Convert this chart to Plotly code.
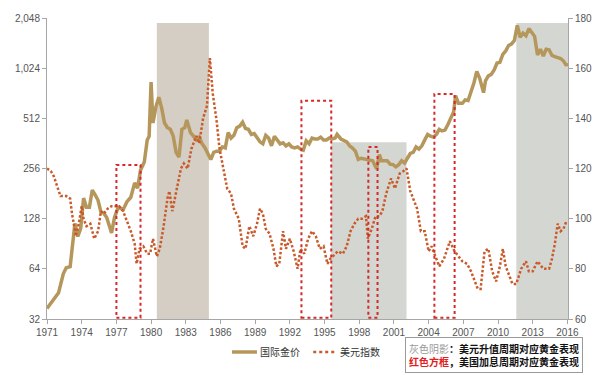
import plotly.graph_objects as go

gold_dates = ["1971-01","1971-08","1972-01","1972-06","1972-09","1973-01","1973-03","1973-06","1973-09","1973-12",
"1974-03","1974-06","1974-09","1974-12","1975-03","1975-06","1975-09","1975-12","1976-03","1976-08","1976-11",
"1977-03","1977-08","1977-12","1978-04","1978-08","1978-11","1979-02","1979-06","1979-09","1979-11","1980-01",
"1980-03","1980-06","1980-09","1980-12","1981-03","1981-06","1981-09","1981-12","1982-03","1982-06","1982-09",
"1982-12","1983-02","1983-06","1983-09","1983-12","1984-03","1984-06","1984-09","1984-12","1985-03","1985-06",
"1985-09","1985-12","1986-03","1986-06","1986-09","1986-12","1987-03","1987-06","1987-09","1987-12","1988-03",
"1988-06","1988-09","1988-12","1989-03","1989-06","1989-09","1989-12","1990-03","1990-06","1990-09","1990-12",
"1991-03","1991-06","1991-09","1991-12","1992-03","1992-06","1992-09","1992-12","1993-03","1993-06","1993-09",
"1993-12","1994-03","1994-06","1994-09","1994-12","1995-03","1995-06","1995-09","1995-12","1996-02","1996-06",
"1996-12","1997-03","1997-06","1997-09","1997-12","1998-03","1998-06","1998-09","1998-12","1999-03","1999-07",
"1999-10","1999-12","2000-03","2000-06","2000-09","2000-12","2001-03","2001-06","2001-09","2001-12","2002-03",
"2002-06","2002-09","2002-12","2003-03","2003-06","2003-09","2003-12","2004-03","2004-06","2004-09","2004-12",
"2005-03","2005-06","2005-09","2005-12","2006-03","2006-05","2006-08","2006-12","2007-03","2007-06","2007-09",
"2007-12","2008-03","2008-06","2008-10","2008-12","2009-03","2009-06","2009-09","2009-12","2010-03","2010-06",
"2010-09","2010-12","2011-03","2011-06","2011-09","2011-12","2012-03","2012-06","2012-09","2012-12","2013-03",
"2013-06","2013-09","2013-12","2014-03","2014-06","2014-09","2014-12","2015-03","2015-06","2015-09","2015-12","2016-01"]
gold_values = [37,42,46,60,65,66,84,120,100,112,
170,150,150,190,178,165,140,138,130,105,130,
150,145,162,172,210,195,250,280,380,400,845,
480,600,686,590,480,450,440,400,320,300,440,
450,500,420,400,380,395,360,340,310,290,320,
325,325,345,340,420,390,405,450,460,485,445,
440,410,415,390,370,360,405,390,350,400,380,
360,365,350,360,345,340,345,335,330,375,360,
390,385,385,395,380,380,390,385,390,410,385,
370,350,340,325,290,295,292,292,288,285,255,
310,285,285,285,272,270,262,270,285,276,295,
315,320,345,335,350,380,410,400,395,410,440,
430,435,470,510,560,700,630,630,660,655,740,
835,980,890,730,860,920,940,1000,1100,1110,1240,
1300,1400,1430,1500,1850,1570,1660,1600,1770,1670,1590,
1230,1330,1210,1330,1320,1220,1200,1180,1170,1130,1060,1100]

usd_dates = ["1971-01","1971-05","1971-08","1971-12","1972-03","1972-09","1973-01","1973-03","1973-07","1973-10",
"1974-01","1974-03","1974-06","1974-10","1975-02","1975-06","1975-09","1975-12","1976-04","1976-08","1976-12",
"1977-04","1977-08","1977-12","1978-04","1978-08","1978-10","1979-01","1979-05","1979-09","1979-12","1980-03",
"1980-07","1980-10","1981-02","1981-06","1981-08","1981-11","1982-04","1982-08","1982-11","1983-03","1983-07",
"1983-12","1984-03","1984-07","1984-11","1985-02","1985-05","1985-09","1985-12","1986-04","1986-08","1986-12",
"1987-03","1987-08","1987-12","1988-03","1988-07","1988-11","1989-03","1989-06","1989-09","1989-12","1990-04",
"1990-08","1990-11","1991-02","1991-06","1991-09","1992-01","1992-05","1992-09","1992-12","1993-04","1993-08",
"1993-12","1994-04","1994-08","1994-12","1995-04","1995-07","1995-10","1996-03","1996-08","1996-12","1997-04",
"1997-08","1997-12","1998-04","1998-08","1998-10","1999-02","1999-06","1999-10","2000-01","2000-05","2000-10",
"2001-02","2001-07","2001-11","2002-02","2002-06","2002-10","2003-01","2003-05","2003-09","2004-01","2004-04",
"2004-12","2005-05","2005-11","2006-04","2006-08","2006-12","2007-05","2007-09","2007-12","2008-04","2008-07",
"2008-11","2009-03","2009-07","2009-11","2010-03","2010-06","2010-09","2010-11","2011-04","2011-08","2012-01",
"2012-06","2012-09","2013-01","2013-06","2013-12","2014-06","2014-09","2014-12","2015-03","2015-06","2015-09",
"2015-12","2016-01"]
usd_values = [120,119,117,112,109,109,108,102,93,98,
105,100,97,98,92,95,103,102,104,105,105,
105,103,99,95,90,82,88,89,86,86,92,
85,88,97,108,111,103,112,120,122,120,128,
133,130,140,145,164,150,139,128,120,112,110,
104,100,89,88,97,93,98,104,102,96,94,
88,81,82,95,88,92,87,80,88,86,92,
95,93,88,89,82,84,85,87,86,89,95,
98,100,100,101,92,96,101,101,103,110,116,
112,118,119,120,111,107,104,95,95,87,89,
81,84,91,87,85,83,82,79,76,72,72,
87,88,79,75,81,88,81,79,74,74,80,
83,79,79,83,80,80,84,90,98,95,96,
99,99]

left_ticks = [32, 64, 128, 256, 512, 1024, 2048]
left_labels = ["32", "64", "128", "256", "512", "1,024", "2,048"]
right_ticks = [60, 80, 100, 120, 140, 160, 180]
x_ticks = ["1971","1974","1977","1980","1983","1986","1989","1992","1995","1998","2001","2004","2007","2010","2013","2016"]

gold_name = "国际金价"
usd_name = "美元指数"

# shaded periods (dollar appreciation) and red boxes (rate hikes)
shade_periods = [("1980-07-01", "1985-01-01", 178, "#d5cec5"),
                 ("1995-08-01", "2002-02-01", 130.5, "#d4d7d1"),
                 ("2011-08-01", "2016-01-20", 178, "#d4d7d1")]
hike_boxes = [("1977-01-01", "1979-02-01", 121.4),
              ("1993-01-01", "1995-08-01", 147),
              ("1998-10-15", "1999-08-01", 128.6),
              ("2004-07-01", "2006-04-01", 149.7)]

GOLD_COLOR = "#b5975c"
USD_COLOR = "#c95a2a"

fig = go.Figure()
fig.add_trace(go.Scatter(x=gold_dates, y=gold_values, name=gold_name, mode="lines",
                         line=dict(color=GOLD_COLOR, width=3.5), yaxis="y"))
fig.add_trace(go.Scatter(x=usd_dates, y=usd_values, name=usd_name, mode="lines",
                         line=dict(color=USD_COLOR, width=2.5, dash="2.5px,2px"), yaxis="y2"))

shapes = []
for x0, x1, top, col in shade_periods:
    shapes.append(dict(type="rect", xref="x", yref="y2", x0=x0, x1=x1, y0=60, y1=top,
                       fillcolor=col, line=dict(width=0), layer="below"))
for x0, x1, top in hike_boxes:
    shapes.append(dict(type="rect", xref="x", yref="y2", x0=x0, x1=x1, y0=60.5, y1=top,
                       line=dict(color="#d42a2a", width=2, dash="dot"), fillcolor="rgba(0,0,0,0)", layer="above"))

# manual legend (kept outside plot without shrinking it)
LEG_Y = -0.1096
shapes.append(dict(type="line", xref="paper", yref="paper", x0=0.355, x1=0.403, y0=LEG_Y, y1=LEG_Y,
                   line=dict(color=GOLD_COLOR, width=3.5)))
shapes.append(dict(type="line", xref="paper", yref="paper", x0=0.511, x1=0.553, y0=LEG_Y, y1=LEG_Y,
                   line=dict(color=USD_COLOR, width=2.5, dash="dot")))

leg_font = dict(family="Noto Sans CJK SC", size=10, color="#333333")
annotations = [
    dict(xref="paper", yref="paper", x=0.405, y=LEG_Y, xanchor="left", yanchor="middle",
         text=gold_name, showarrow=False, font=leg_font),
    dict(xref="paper", yref="paper", x=0.558, y=LEG_Y, xanchor="left", yanchor="middle",
         text=usd_name, showarrow=False, font=leg_font),
    dict(xref="paper", yref="paper", x=0.687, y=-0.06, xanchor="left", yanchor="top",
         align="left", showarrow=False,
         text=("<span style='color:#9a9a9a'>灰色阴影</span><b>：美元升值周期对应黄金表现</b><br>"
               "<b><span style='color:#e02020'>红色方框</span>，美国加息周期对应黄金表现</b>"),
         font=dict(family="Noto Sans CJK SC", size=10, color="#111111"),
         bordercolor="#9a9a9a", borderwidth=1, borderpad=3, bgcolor="white"),
]

font_tick = dict(family="Liberation Sans, Arial", size=10, color="#555555")
# the page adds an 8px body margin (left/top), so the figure is sized/margined to compensate
fig.update_layout(
    width=592, height=367,
    margin=dict(l=39, r=32, t=10, b=56, autoexpand=False),
    paper_bgcolor="white", plot_bgcolor="white",
    shapes=shapes, annotations=annotations, showlegend=False,
    xaxis=dict(type="date", range=["1971-01-01", "2016-01-20"], automargin=False,
               tickvals=[t + "-01-01" for t in x_ticks], ticktext=x_ticks,
               showgrid=False, showline=True, linecolor="#a6a6a6", linewidth=1,
               ticks="outside", ticklen=4, tickcolor="#a6a6a6", tickfont=font_tick, zeroline=False),
    yaxis=dict(type="log", range=[1.50515, 3.31133], tickvals=left_ticks, ticktext=left_labels, automargin=False,
               showgrid=False, showline=True, linecolor="#a6a6a6", linewidth=1,
               ticks="outside", ticklen=4, tickcolor="#a6a6a6", tickfont=font_tick, zeroline=False),
    yaxis2=dict(overlaying="y", side="right", range=[60, 180], tickvals=right_ticks, automargin=False,
                showgrid=False, showline=True, linecolor="#a6a6a6", linewidth=1,
                ticks="outside", ticklen=4, tickcolor="#a6a6a6", tickfont=font_tick, zeroline=False),
)

fig.write_html("out.html")
